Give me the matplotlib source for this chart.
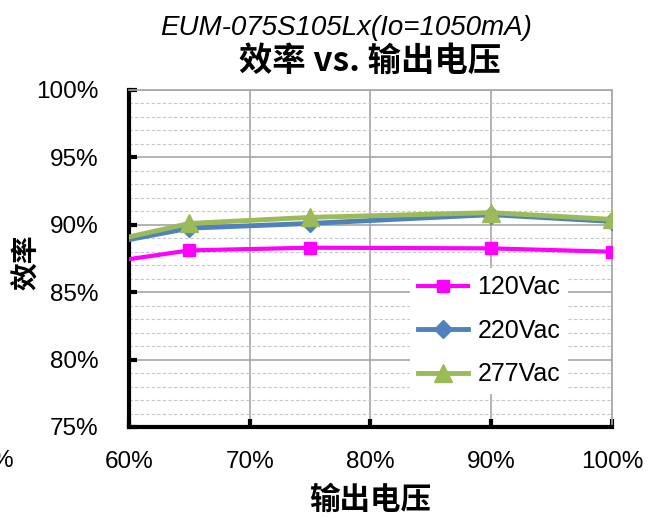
import matplotlib
matplotlib.use("Agg")
import matplotlib.pyplot as plt
from matplotlib.ticker import MultipleLocator, FuncFormatter

plt.rcParams['font.family'] = ['Liberation Sans', 'Noto Sans CJK SC', 'DejaVu Sans']

# output voltage (fraction of rated)
x = [0.60, 0.65, 0.75, 0.90, 1.00]
eff_120 = [0.8745, 0.881, 0.883, 0.8825, 0.880]
eff_220 = [0.889, 0.8975, 0.901, 0.9075, 0.9025]
eff_277 = [0.891, 0.901, 0.9055, 0.909, 0.904]
labels = ['120Vac', '220Vac', '277Vac']

fig = plt.figure(figsize=(6.6, 5.18), dpi=100)
ax = fig.add_axes([0.1955, 0.1757, 0.7315, 0.6506])

mk = [1, 2, 3, 4]
ax.plot(x, eff_120, color='#FF00FF', lw=3, marker='s', ms=9, markevery=mk, label=labels[0], zorder=3)
ax.plot(x, eff_220, color='#4F81BD', lw=3.5, marker='D', ms=9, markevery=mk, label=labels[1], zorder=4)
ax.plot(x, eff_277, color='#9BBB59', lw=3.5, marker='^', ms=13, markevery=mk, label=labels[2], zorder=5)

ax.set_xlim(0.60, 1.00)
ax.set_ylim(0.75, 1.00)
ax.xaxis.set_major_locator(MultipleLocator(0.10))
ax.yaxis.set_major_locator(MultipleLocator(0.05))
ax.yaxis.set_minor_locator(MultipleLocator(0.01))
pct = FuncFormatter(lambda v, p: '%d%%' % round(v * 100))
ax.xaxis.set_major_formatter(pct)
ax.yaxis.set_major_formatter(pct)

ax.grid(True, which='major', axis='both', color='#A6A6A6', lw=1.2)
ax.grid(True, which='minor', axis='y', color='#C8C8C8', lw=0.8, ls=(0, (3, 2)))
ax.set_axisbelow(True)

for s in ['left', 'bottom']:
    ax.spines[s].set_linewidth(3)
    ax.spines[s].set_color('black')
for s in ['top', 'right']:
    ax.spines[s].set_linewidth(1.2)
    ax.spines[s].set_color('#A6A6A6')

ax.tick_params(axis='both', which='major', direction='in', length=6, width=3,
               labelsize=17.5, color='black')
ax.tick_params(axis='y', which='major', pad=22)
ax.tick_params(axis='x', which='major', pad=17)
ax.tick_params(axis='y', which='minor', length=0)

leg = ax.legend(loc='lower right', bbox_to_anchor=(0.935, 0.061), fontsize=18,
                frameon=True, handlelength=2.0, labelspacing=0.78,
                handletextpad=0.4, borderpad=0.3)
leg.get_frame().set_edgecolor('none')
leg.get_frame().set_facecolor('white')
leg.get_frame().set_alpha(1)

fig.text(0.525, 0.945, 'EUM-075S105Lx(Io=1050mA)', ha='center', va='center',
         fontsize=20, style='italic')
fig.text(0.56, 0.882, '效率 vs. 输出电压', ha='center', va='center',
         fontsize=24, fontweight='bold',
         family=['Noto Sans CJK SC', 'Liberation Sans'])
ax.set_xlabel('输出电压', fontsize=22, fontweight='bold',
              family=['Noto Sans CJK SC', 'DejaVu Sans'], labelpad=8)
ax.set_ylabel('效率', fontsize=20, fontweight='bold',
              family=['Noto Sans CJK SC', 'DejaVu Sans'])
ax.yaxis.set_label_coords(-0.182, 0.49)
fig.text(-0.014, 0.11, '%', fontsize=17.5, ha='left', va='center')

fig.savefig('out.png', dpi=100)
